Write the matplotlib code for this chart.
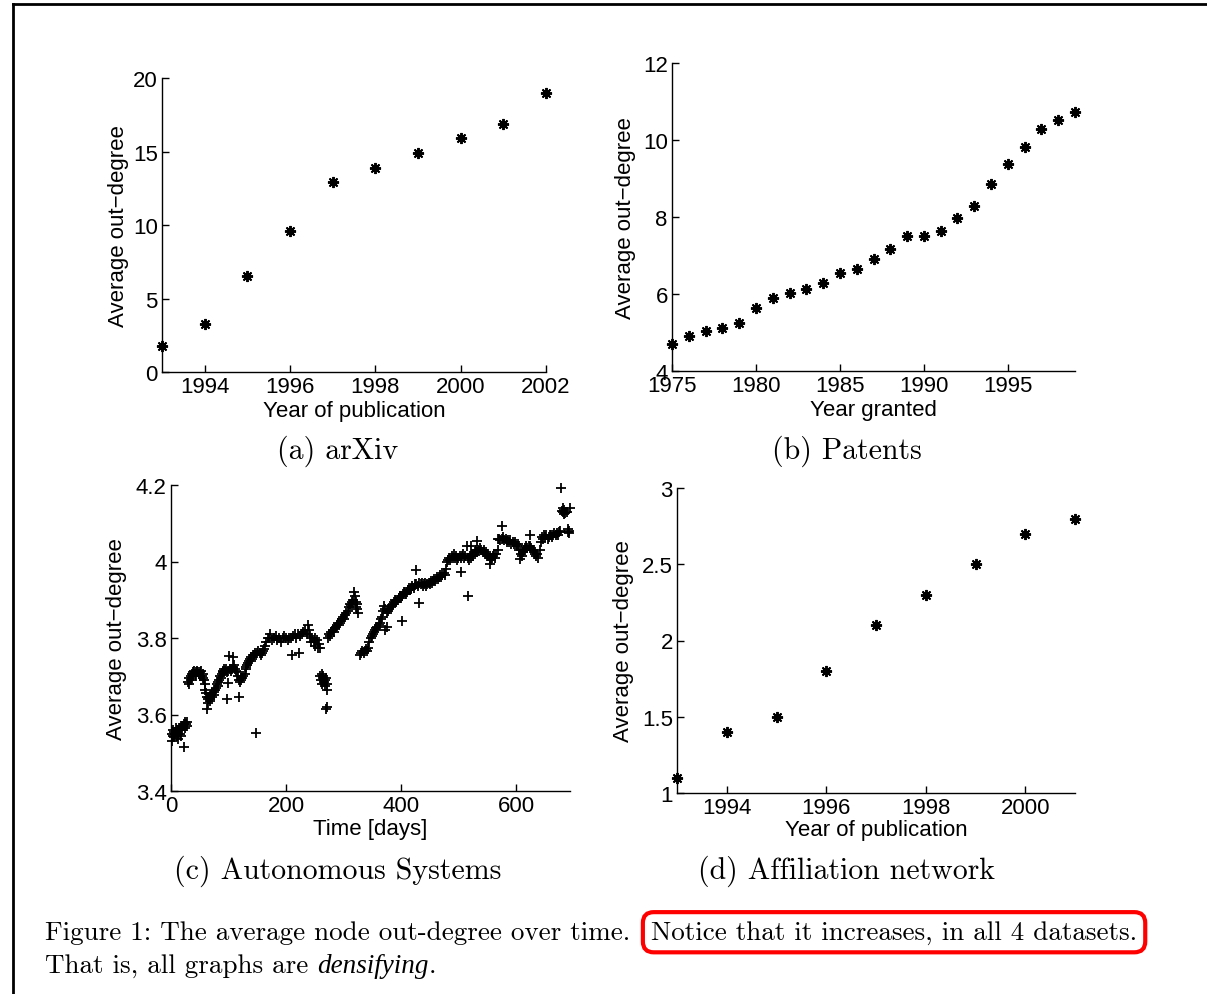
import matplotlib
matplotlib.use("Agg")
import matplotlib.pyplot as plt
from matplotlib.lines import Line2D

plt.rcParams['mathtext.fontset'] = 'cm'

W, H = 1207, 995

# (a) arXiv
arxiv_years = [1993, 1994, 1995, 1996, 1997, 1998, 1999, 2000, 2001, 2002]
arxiv_deg = [1.77, 3.28, 6.52, 9.56, 12.9, 13.9, 14.9, 15.9, 16.9, 19.0]

# (b) Patents
pat_years = list(range(1975, 2000))
pat_deg = [4.69, 4.90, 5.04, 5.12, 5.24, 5.63, 5.90, 6.03, 6.12, 6.28,
           6.55, 6.64, 6.92, 7.16, 7.51, 7.51, 7.63, 7.98, 8.29, 8.86,
           9.37, 9.83, 10.28, 10.51, 10.73]

# (d) Affiliation network
aff_years = [1993, 1994, 1995, 1996, 1997, 1998, 1999, 2000, 2001]
aff_deg = [1.10, 1.40, 1.50, 1.80, 2.10, 2.30, 2.50, 2.70, 2.80]

# (c) Autonomous Systems, (day, avg out-degree)
as_points = [
    (1, 3.55), (2, 3.53), (3, 3.545), (4, 3.56), (5, 3.555), (6, 3.54), (7, 3.55), (8, 3.565),
    (9, 3.555), (10, 3.545), (11, 3.56), (12, 3.535), (13, 3.55), (14, 3.565), (15, 3.56),
    (16, 3.55), (17, 3.545), (18, 3.565), (19, 3.57), (20, 3.56), (21, 3.57), (22, 3.515),
    (23, 3.575), (24, 3.565), (25, 3.58), (26, 3.575), (27, 3.57), (28, 3.58),
    (30, 3.685), (31, 3.68), (32, 3.695), (34, 3.70), (35, 3.69), (36, 3.705), (38, 3.70),
    (39, 3.71), (40, 3.715), (42, 3.705), (43, 3.71), (44, 3.70), (46, 3.715), (47, 3.71),
    (48, 3.705), (50, 3.71), (51, 3.70), (52, 3.715), (54, 3.70), (55, 3.695), (56, 3.705),
    (58, 3.69), (59, 3.68),
    (60, 3.665), (61, 3.655), (62, 3.645), (63, 3.615), (64, 3.64), (65, 3.63), (66, 3.645),
    (67, 3.635), (68, 3.64), (70, 3.65), (71, 3.645),
    (72, 3.655), (74, 3.66), (75, 3.65), (76, 3.665), (78, 3.67), (80, 3.68), (81, 3.675),
    (82, 3.685), (84, 3.69), (86, 3.70), (87, 3.695), (88, 3.705), (90, 3.715), (91, 3.71),
    (92, 3.72), (94, 3.715), (96, 3.72), (97, 3.64), (98, 3.71), (99, 3.683), (100, 3.715),
    (101, 3.753), (102, 3.72), (104, 3.715), (106, 3.72), (107, 3.75), (108, 3.725),
    (110, 3.73), (112, 3.72), (113, 3.715), (114, 3.71), (116, 3.70), (118, 3.69),
    (119, 3.647), (120, 3.685), (121, 3.695), (122, 3.69), (124, 3.695), (126, 3.70),
    (128, 3.705), (130, 3.72), (131, 3.725), (132, 3.73), (134, 3.735), (136, 3.74),
    (138, 3.745), (139, 3.74), (140, 3.75), (142, 3.755), (144, 3.755), (146, 3.76),
    (147, 3.552), (148, 3.755), (150, 3.76), (152, 3.765), (154, 3.76), (156, 3.755),
    (158, 3.76), (160, 3.765), (162, 3.77), (164, 3.78), (166, 3.79), (168, 3.80),
    (170, 3.80), (173, 3.81), (176, 3.795), (179, 3.80), (182, 3.805), (185, 3.795),
    (188, 3.80), (191, 3.79), (194, 3.80), (197, 3.805), (200, 3.80), (203, 3.795),
    (206, 3.80), (209, 3.80), (210, 3.755), (212, 3.805), (215, 3.81), (218, 3.80),
    (221, 3.81), (223, 3.76), (224, 3.805), (227, 3.81), (230, 3.815), (233, 3.82),
    (236, 3.81), (239, 3.835), (240, 3.82), (242, 3.805), (243, 3.79), (245, 3.80),
    (248, 3.79), (250, 3.78), (251, 3.80), (254, 3.795), (256, 3.775), (257, 3.785),
    (259, 3.775),
    (260, 3.70), (261, 3.69), (262, 3.705), (263, 3.68), (264, 3.695), (265, 3.70),
    (266, 3.685), (267, 3.69), (268, 3.675), (269, 3.695), (270, 3.615), (271, 3.68),
    (271, 3.62), (272, 3.665),
    (273, 3.80), (275, 3.81), (277, 3.805), (279, 3.815), (281, 3.82), (283, 3.815),
    (285, 3.825), (287, 3.83), (289, 3.835), (291, 3.84), (293, 3.835), (295, 3.845),
    (297, 3.85), (299, 3.855), (301, 3.85), (303, 3.86), (305, 3.865), (307, 3.87),
    (309, 3.88), (311, 3.89), (313, 3.885), (315, 3.895), (317, 3.90), (319, 3.92),
    (320, 3.91), (321, 3.895), (322, 3.88), (323, 3.89), (324, 3.875), (325, 3.865),
    (329, 3.755), (331, 3.76), (333, 3.765), (335, 3.76), (337, 3.767), (339, 3.77),
    (341, 3.765), (343, 3.775), (345, 3.79), (347, 3.80), (349, 3.806), (351, 3.81),
    (353, 3.815), (355, 3.82), (357, 3.825), (359, 3.83), (361, 3.835), (363, 3.84),
    (365, 3.85), (367, 3.855), (369, 3.87), (371, 3.884), (372, 3.821), (373, 3.875),
    (375, 3.829), (376, 3.865), (378, 3.87), (380, 3.875), (382, 3.88), (384, 3.885),
    (386, 3.89), (388, 3.895), (390, 3.90), (392, 3.895), (394, 3.90), (396, 3.905),
    (398, 3.91), (400, 3.905), (401, 3.845), (402, 3.91), (404, 3.915), (406, 3.92),
    (408, 3.915), (410, 3.92), (412, 3.925), (414, 3.93), (416, 3.925), (418, 3.928),
    (420, 3.935), (422, 3.93), (424, 3.94), (426, 3.978), (427, 3.94), (429, 3.935),
    (431, 3.945), (432, 3.891), (434, 3.94), (436, 3.945), (438, 3.935), (440, 3.94),
    (442, 3.945), (444, 3.935), (446, 3.94), (448, 3.945), (450, 3.94), (452, 3.95),
    (454, 3.945), (456, 3.95), (458, 3.955), (460, 3.95), (462, 3.96), (464, 3.955),
    (466, 3.96), (468, 3.965), (470, 3.96), (472, 3.965), (474, 3.97), (476, 3.965),
    (478, 3.98), (480, 4.00), (482, 4.005), (484, 4.01), (486, 4.005), (488, 4.015),
    (490, 4.01), (492, 4.02), (494, 4.01), (496, 4.015), (498, 4.005), (500, 4.01),
    (502, 4.015), (504, 4.01), (505, 3.973), (506, 4.015), (508, 4.02),
    (510, 4.01), (512, 4.015), (514, 4.041), (516, 4.01), (517, 3.909), (518, 4.005),
    (520, 4.015), (521, 4.04), (522, 4.01), (524, 4.02), (526, 4.015), (528, 4.025),
    (530, 4.03), (532, 4.025), (533, 4.054), (534, 4.03), (536, 4.028), (538, 4.035),
    (540, 4.03), (542, 4.025), (544, 4.03), (546, 4.02), (548, 4.025), (550, 4.02),
    (552, 4.015), (554, 4.01), (555, 3.993), (556, 4.005), (558, 4.01), (560, 4.015),
    (562, 4.02), (564, 4.01), (566, 4.02), (568, 4.03), (569, 4.058), (571, 4.06),
    (573, 4.055), (575, 4.093), (576, 4.06), (578, 4.065), (580, 4.055), (582, 4.06),
    (584, 4.05), (586, 4.055), (588, 4.05), (590, 4.055), (592, 4.045), (594, 4.05),
    (596, 4.045), (598, 4.05), (600, 4.045), (602, 4.04), (604, 4.045), (606, 4.03),
    (607, 4.006), (608, 4.02), (610, 4.015), (612, 4.025), (614, 4.03), (616, 4.035),
    (618, 4.04), (620, 4.035), (622, 4.04), (624, 4.068), (625, 4.04), (627, 4.035),
    (629, 4.03), (631, 4.025), (633, 4.02), (635, 4.015), (637, 4.02), (639, 4.01),
    (641, 4.03), (643, 4.05), (645, 4.065), (647, 4.06), (649, 4.07), (651, 4.065),
    (653, 4.07), (655, 4.06), (657, 4.065), (659, 4.07), (661, 4.068), (663, 4.065),
    (665, 4.07), (667, 4.075), (669, 4.07), (671, 4.075), (673, 4.07), (675, 4.076),
    (677, 4.08), (679, 4.191), (680, 4.132), (681, 4.13), (682, 4.14), (683, 4.125),
    (684, 4.135), (686, 4.128), (688, 4.13), (690, 4.077), (691, 4.085), (692, 4.08),
    (693, 4.075), (694, 4.139),
]
as_days = [p[0] for p in as_points]
as_vals = [p[1] for p in as_points]

TICK_FONT = 'Liberation Sans'
FS = 16
ASTERISK = (8, 2, 0)


def rect(l, t, r, b):
    return [l / W, 1 - b / H, (r - l) / W, (b - t) / H]


def style_axes(ax, box, xlabel, ylab_right, xlab_top):
    l, t, r, b = box
    for s in ['top', 'right']:
        ax.spines[s].set_visible(False)
    for s in ['left', 'bottom']:
        ax.spines[s].set_linewidth(1.0)
    ax.tick_params(direction='in', length=5, width=1, labelsize=FS)
    ax.tick_params(axis='x', pad=3)
    ax.tick_params(axis='y', pad=3)
    for lab in ax.get_xticklabels() + ax.get_yticklabels():
        lab.set_fontfamily(TICK_FONT)
    ax.set_xlabel(xlabel, fontsize=FS, fontfamily=TICK_FONT)
    ax.set_ylabel('Average out\u2212degree', fontsize=FS, fontfamily=TICK_FONT)
    ax.yaxis.set_label_coords((ylab_right - l) / (r - l), 0.5)
    ax.xaxis.set_label_coords(0.5, -(xlab_top - b) / (b - t))
    ax.xaxis.label.set_va('top')


fig = plt.figure(figsize=(W / 100, H / 100), dpi=100)

# (a)
box_a = (162, 79, 546, 373)
ax = fig.add_axes(rect(*box_a))
ax.plot(arxiv_years, arxiv_deg, linestyle='none', marker=ASTERISK, ms=8, mew=1.4,
        color='black', clip_on=False)
ax.set_xlim(1993, 2002)
ax.set_ylim(0, 20)
ax.set_xticks([1994, 1996, 1998, 2000, 2002])
ax.set_yticks([0, 5, 10, 15, 20])
style_axes(ax, box_a, 'Year of publication', 129, 401)

# (b)
box_b = (672, 64, 1075, 372)
ax = fig.add_axes(rect(*box_b))
ax.plot(pat_years, pat_deg, linestyle='none', marker=ASTERISK, ms=8, mew=1.4,
        color='black', clip_on=False)
ax.set_xlim(1975, 1999)
ax.set_ylim(4, 12)
ax.set_xticks([1975, 1980, 1985, 1990, 1995])
ax.set_yticks([4, 6, 8, 10, 12])
style_axes(ax, box_b, 'Year granted', 636, 400)

# (c)
box_c = (171, 486, 570, 792)
ax = fig.add_axes(rect(*box_c))
ax.plot(as_days, as_vals, linestyle='none', marker='+', ms=6.5, mew=1.3,
        color='black', clip_on=False)
ax.set_xlim(0, 694)
ax.set_ylim(3.4, 4.2)
ax.set_xticks([0, 200, 400, 600])
ax.set_yticks([3.4, 3.6, 3.8, 4.0, 4.2])
ax.set_yticklabels(['3.4', '3.6', '3.8', '4', '4.2'])
style_axes(ax, box_c, 'Time [days]', 127, 819)

# (d)
box_d = (677, 489, 1075, 794)
ax = fig.add_axes(rect(*box_d))
ax.plot(aff_years, aff_deg, linestyle='none', marker=ASTERISK, ms=8, mew=1.4,
        color='black', clip_on=False)
ax.set_xlim(1993, 2001)
ax.set_ylim(1, 3)
ax.set_xticks([1994, 1996, 1998, 2000])
ax.set_yticks([1, 1.5, 2, 2.5, 3])
ax.set_yticklabels(['1', '1.5', '2', '2.5', '3'])
style_axes(ax, box_d, 'Year of publication', 634, 820)

# sub captions
CAP = dict(fontfamily='cmr10', fontsize=21.5, ha='center', va='center')
fig.text(338 / W, 1 - 451 / H, '(a) arXiv', **CAP)
fig.text(847 / W, 1 - 451 / H, '(b) Patents', **CAP)
fig.text(338 / W, 1 - 871 / H, '(c) Autonomous Systems', **CAP)
fig.text(847 / W, 1 - 871 / H, '(d) Affiliation network', **CAP)

# figure caption, pieces laid out one after the other
renderer = fig.canvas.get_renderer()
CFS = 19.5


def put(x_px, y_px, s, **kw):
    t = fig.text(x_px / W, 1 - y_px / H, s, fontfamily=kw.pop('family', 'cmr10'),
                 fontsize=CFS, ha='left', va='baseline', **kw)
    bb = t.get_window_extent(renderer)
    return t, bb.x1


_, x_end = put(45, 940, 'Figure 1: The average node out-degree over time.')
put(max(x_end + 6, 651), 940, 'Notice that it increases, in all 4 datasets.',
    bbox=dict(boxstyle='round,pad=0.3,rounding_size=0.4', ec='red', fc='none', lw=3))
_, x_end = put(45, 973, 'That is, all graphs are ')
_, x_end = put(x_end, 973, 'densifying', family='Liberation Serif', style='italic')
put(x_end, 973, '.')

# page border (top and left)
fig.add_artist(Line2D([13 / W, 1], [1 - 5 / H, 1 - 5 / H], transform=fig.transFigure,
                      color='black', lw=2))
fig.add_artist(Line2D([13 / W, 13 / W], [0, 1 - 5 / H], transform=fig.transFigure,
                      color='black', lw=2))

fig.savefig('out.png', dpi=100)
